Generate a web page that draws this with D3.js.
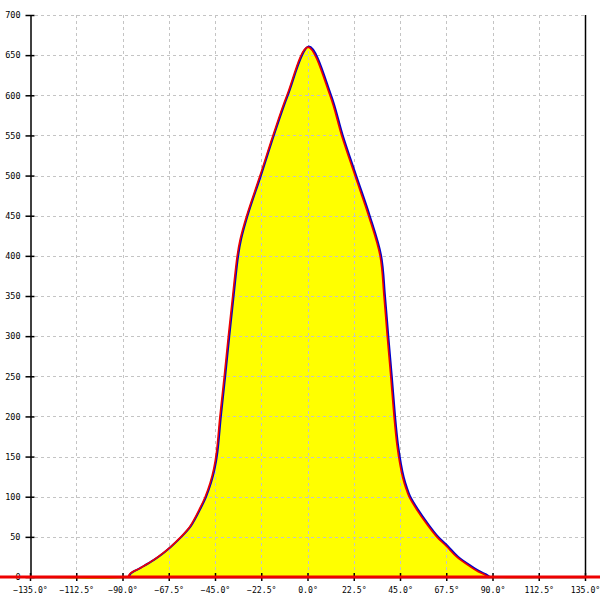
<!DOCTYPE html>
<html><head><meta charset="utf-8">
<script src="https://cdn.jsdelivr.net/npm/d3@7"></script>
<style>body{margin:0;background:#fff}</style>
</head><body>
<svg id="c" width="600" height="600"></svg>
<script>
const angles = [-135, -87.3, -86.4, -81.5, -75.0, -70.2, -66.9, -62.0, -57.2, -52.3, -49.9, -47.4, -45.6, -44.3, -42.6, -40.5, -38.5, -36.4, -34.2, -32.8, -29.6, -23.1, -16.8, -10.0, 0.2, 10.9, 16.6, 23.1, 29.7, 35.3, 37.2, 38.8, 40.5, 42.1, 43.5, 45.0, 46.3, 47.8, 49.4, 53.1, 58.0, 62.9, 67.7, 72.6, 79.1, 83.1, 86.4, 88.0, 135];
const counts = [0, 0, 4, 11, 21, 30, 37, 49, 63, 86, 99, 117, 135, 155, 200, 250, 300, 350, 400, 420, 450, 500, 550, 600, 660, 600, 550, 500, 450, 400, 350, 300, 250, 200, 165, 140, 124, 111, 100, 84, 66, 50, 38, 25, 13, 6.6, 2.5, 0, 0];
const xTicks = [-135, -112.5, -90, -67.5, -45, -22.5, 0, 22.5, 45, 67.5, 90, 112.5, 135];
const yTicks = [0, 50, 100, 150, 200, 250, 300, 350, 400, 450, 500, 550, 600, 650, 700];

const data = angles.map((a, i) => ({a, v: counts[i]}));
const svg = d3.select("#c");
const x = d3.scaleLinear().domain([-135, 135]).range([30, 585]);
const y = d3.scaleLinear().domain([0, 700]).range([577, 15]);
const font = "'DejaVu Sans Mono', monospace";
const curve = d3.curveCatmullRom.alpha(0.5);

// fill
const area = d3.area().x(d => x(d.a)).y0(y(0)).y1(d => y(d.v)).curve(curve);
svg.append("path").datum(data).attr("d", area).attr("fill", "#ffff00");

// grid
const grid = svg.append("g").attr("stroke", "#c4c4c4").attr("stroke-dasharray", "3,3").attr("stroke-width", 1);
grid.selectAll("line.h").data(yTicks.filter(t => t > 0)).join("line")
  .attr("x1", 35).attr("x2", 585).attr("y1", d => Math.round(y(d)) + 0.5).attr("y2", d => Math.round(y(d)) + 0.5);
grid.selectAll("line.v").data(xTicks.slice(1, -1)).join("line")
  .attr("x1", d => Math.round(x(d)) + 0.5).attr("x2", d => Math.round(x(d)) + 0.5).attr("y1", 15).attr("y2", 577);

// axes
const yAxis = d3.axisLeft(y).tickValues(yTicks).tickFormat(d3.format("d")).tickSizeInner(5).tickSizeOuter(0).tickPadding(5);
const gy = svg.append("g").attr("transform", "translate(30.5,0)").call(yAxis);
gy.selectAll(".tick line").attr("x2", 4).attr("x1", -5).attr("stroke-width", 1.5);
gy.select(".domain").attr("stroke-width", 1.5);
gy.selectAll("text").attr("font-family", font).attr("font-size", 8.5).attr("fill", "#000");

svg.append("line").attr("x1", 585.5).attr("x2", 585.5).attr("y1", y(700)).attr("y2", y(0)).attr("stroke", "#000").attr("stroke-width", 1.5);

const xAxis = d3.axisBottom(x).tickValues(xTicks).tickFormat(d => d3.format(".1f")(d) + "°").tickSizeInner(4).tickSizeOuter(0).tickPadding(6);
const gx = svg.append("g").attr("transform", "translate(0,577)").call(xAxis);
gx.selectAll(".tick line").attr("y1", -4).attr("y2", 4).attr("stroke-width", 1.5);
gx.select(".domain").attr("stroke-width", 1.5);
gx.selectAll("text").attr("font-family", font).attr("font-size", 8.2).attr("fill", "#000");

// curves
const line = d3.line().x(d => x(d.a)).y(d => y(d.v)).curve(curve);
const inner = data.filter(d => d.a > -90 && d.a < 90);
svg.append("path").datum(inner).attr("d", line).attr("fill", "none").attr("stroke", "#0000cc").attr("stroke-width", 2).attr("transform", "translate(1,-0.5)");
svg.append("path").datum(inner).attr("d", line).attr("fill", "none").attr("stroke", "#ee0000").attr("stroke-width", 1.6);

// zero baseline
svg.append("line").attr("x1", 0).attr("x2", 600).attr("y1", y(0)).attr("y2", y(0)).attr("stroke", "#ee0000").attr("stroke-width", 3);
</script>
</body></html>
